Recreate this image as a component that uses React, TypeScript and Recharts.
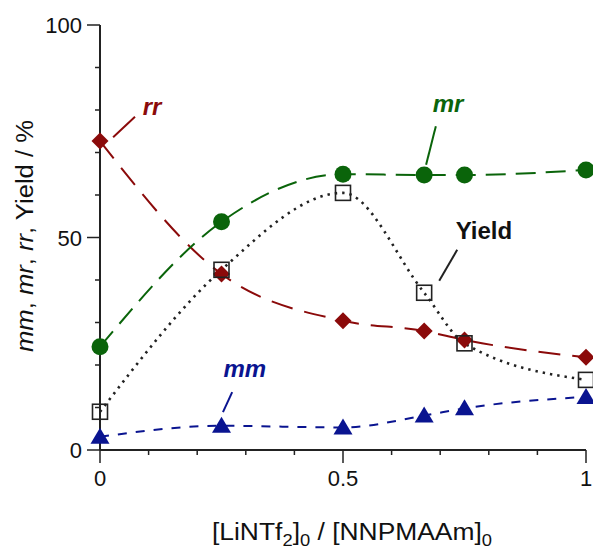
import React from "react";
import {
  ComposedChart,
  Line,
  XAxis,
  YAxis,
  ReferenceLine,
  ReferenceDot,
} from "recharts";

// [LiNTf2]0 / [NNPMAAm]0 ratios and the tacticity / yield values (%)
const ratio = [0, 0.25, 0.5, 0.667, 0.75, 1];
const mrValues = [24.3, 53.7, 64.9, 64.7, 64.7, 65.9];
const rrValues = [72.7, 41.4, 30.4, 28.0, 25.9, 21.8];
const yieldValues = [9.0, 42.4, 60.5, 37.0, 25.1, 16.5];
const mmValues = [3.1, 5.7, 5.3, 8.1, 9.8, 12.5];

const xTicks = [0, 0.1, 0.2, 0.3, 0.4, 0.5, 0.6, 0.7, 0.8, 0.9, 1];
const xLabels = [0, 0.5, 1];
const yTicks = [0, 10, 20, 30, 40, 50, 60, 70, 80, 90, 100];
const yLabels = [0, 50, 100];

const GREEN = "#0a640a";
const RED = "#8b0a0a";
const BLUE = "#0a1490";
const AXIS = "#222";
const FONT = "'Liberation Sans', Arial, Helvetica, sans-serif";

const data = ratio.map((r, i) => ({
  r,
  mr: mrValues[i],
  rr: rrValues[i],
  yield: yieldValues[i],
  mm: mmValues[i],
}));

function XTick({ x, y, payload }: any) {
  const major = xLabels.includes(payload.value);
  return (
    <g>
      <line x1={x} y1={y} x2={x} y2={y + (major ? 13 : 5)} stroke={AXIS} strokeWidth={1.5} />
      {major && (
        <text x={x} y={y + 36} textAnchor="middle" fontSize={22} fontFamily={FONT} fill="#111">
          {payload.value}
        </text>
      )}
    </g>
  );
}

function YTick({ x, y, payload }: any) {
  const major = yLabels.includes(payload.value);
  return (
    <g>
      <line x1={x - (major ? 13 : 5)} y1={y} x2={x} y2={y} stroke={AXIS} strokeWidth={1.5} />
      {major && (
        <text x={x - 18} y={y + 8} textAnchor="end" fontSize={22} fontFamily={FONT} fill="#111">
          {payload.value}
        </text>
      )}
    </g>
  );
}

const circleDot = (p: any) => (
  <circle key={`c${p.index}`} cx={p.cx} cy={p.cy} r={8.5} fill={GREEN} />
);
const diamondDot = (p: any) => (
  <path
    key={`d${p.index}`}
    d={`M${p.cx},${p.cy - 8.5}L${p.cx + 8.5},${p.cy}L${p.cx},${p.cy + 8.5}L${p.cx - 8.5},${p.cy}Z`}
    fill={RED}
  />
);
const squareDot = (p: any) => (
  <rect
    key={`s${p.index}`}
    x={p.cx - 7.5}
    y={p.cy - 7.5}
    width={15}
    height={15}
    fill="none"
    stroke="#222"
    strokeWidth={1.6}
  />
);
const triangleDot = (p: any) => (
  <path
    key={`t${p.index}`}
    d={`M${p.cx},${p.cy - 9}L${p.cx + 9.5},${p.cy + 7}L${p.cx - 9.5},${p.cy + 7}Z`}
    fill={BLUE}
  />
);

function tag(text: string, color: string, italic: boolean) {
  return (p: any) => (
    <text
      x={p.cx}
      y={p.cy + 8}
      textAnchor="middle"
      fontSize={24}
      fontWeight="bold"
      fontStyle={italic ? "italic" : "normal"}
      fontFamily={FONT}
      fill={color}
    >
      {text}
    </text>
  );
}

function YTitle({ viewBox }: any) {
  const cx = viewBox.x + 33;
  const cy = 236;
  return (
    <text
      x={cx}
      y={cy}
      transform={`rotate(-90 ${cx} ${cy})`}
      textAnchor="middle"
      fontSize={23}
      fontFamily={FONT}
      fill="#111"
      textLength={232}
      lengthAdjust="spacingAndGlyphs"
    >
      <tspan fontStyle="italic">mm</tspan>, <tspan fontStyle="italic">mr</tspan>,{" "}
      <tspan fontStyle="italic">rr</tspan>, Yield / %
    </text>
  );
}

function XTitle({ viewBox }: any) {
  const cx = viewBox.x + viewBox.width / 2 + 9;
  const base = 540;
  return (
    <text
      x={cx}
      y={base}
      textAnchor="middle"
      fontSize={23}
      fontFamily={FONT}
      fill="#111"
      textLength={280}
      lengthAdjust="spacingAndGlyphs"
    >
      [LiNTf<tspan fontSize={16} dy={6}>2</tspan>
      <tspan dy={-6}>]</tspan>
      <tspan fontSize={16} dy={6}>0</tspan>
      <tspan dy={-6}> / [NNPMAAm]</tspan>
      <tspan fontSize={16} dy={6}>0</tspan>
    </text>
  );
}

export default function App() {
  return (
    <div style={{ position: "absolute", left: 0, top: 0 }}>
      <ComposedChart
        width={593}
        height={549}
        data={data}
        margin={{ top: 25, right: 7, bottom: 0, left: 0 }}
      >
        <XAxis
          dataKey="r"
          type="number"
          domain={[0, 1]}
          ticks={xTicks}
          interval={0}
          height={99}
          tickLine={false}
          tickSize={0}
          tickMargin={0}
          axisLine={{ stroke: AXIS, strokeWidth: 2 }}
          tick={<XTick />}
          label={<XTitle />}
        />
        <YAxis
          type="number"
          domain={[0, 100]}
          ticks={yTicks}
          interval={0}
          width={100}
          tickLine={false}
          tickSize={0}
          tickMargin={0}
          axisLine={{ stroke: AXIS, strokeWidth: 2 }}
          tick={<YTick />}
          label={<YTitle />}
        />
        <Line
          type="monotone"
          dataKey="mm"
          stroke={BLUE}
          strokeWidth={2}
          strokeDasharray="9 9"
          dot={triangleDot}
          activeDot={false}
          isAnimationActive={false}
        />
        <Line
          type="monotone"
          dataKey="rr"
          stroke={RED}
          strokeWidth={2}
          strokeDasharray="22 12"
          dot={diamondDot}
          activeDot={false}
          isAnimationActive={false}
        />
        <Line
          type="monotone"
          dataKey="mr"
          stroke={GREEN}
          strokeWidth={2}
          strokeDasharray="20 10"
          dot={circleDot}
          activeDot={false}
          isAnimationActive={false}
        />
        <Line
          type="monotone"
          dataKey="yield"
          stroke="#222"
          strokeWidth={2.6}
          strokeDasharray="2.4 5"
          dot={squareDot}
          activeDot={false}
          isAnimationActive={false}
        />
        <ReferenceLine segment={[{ x: 0.027, y: 73.6 }, { x: 0.072, y: 78.4 }]} stroke={RED} strokeWidth={2} />
        <ReferenceLine segment={[{ x: 0.691, y: 76.2 }, { x: 0.671, y: 67.1 }]} stroke={GREEN} strokeWidth={2} />
        <ReferenceLine segment={[{ x: 0.735, y: 47.1 }, { x: 0.698, y: 39.8 }]} stroke="#222" strokeWidth={2} />
        <ReferenceLine segment={[{ x: 0.272, y: 13.6 }, { x: 0.253, y: 8.9 }]} stroke={BLUE} strokeWidth={2} />
        <ReferenceDot x={0.107} y={80.7} r={0} shape={tag("rr", RED, true)} />
        <ReferenceDot x={0.716} y={81.4} r={0} shape={tag("mr", GREEN, true)} />
        <ReferenceDot x={0.79} y={51.5} r={0} shape={tag("Yield", "#111", false)} />
        <ReferenceDot x={0.298} y={19.1} r={0} shape={tag("mm", BLUE, true)} />
      </ComposedChart>
    </div>
  );
}
